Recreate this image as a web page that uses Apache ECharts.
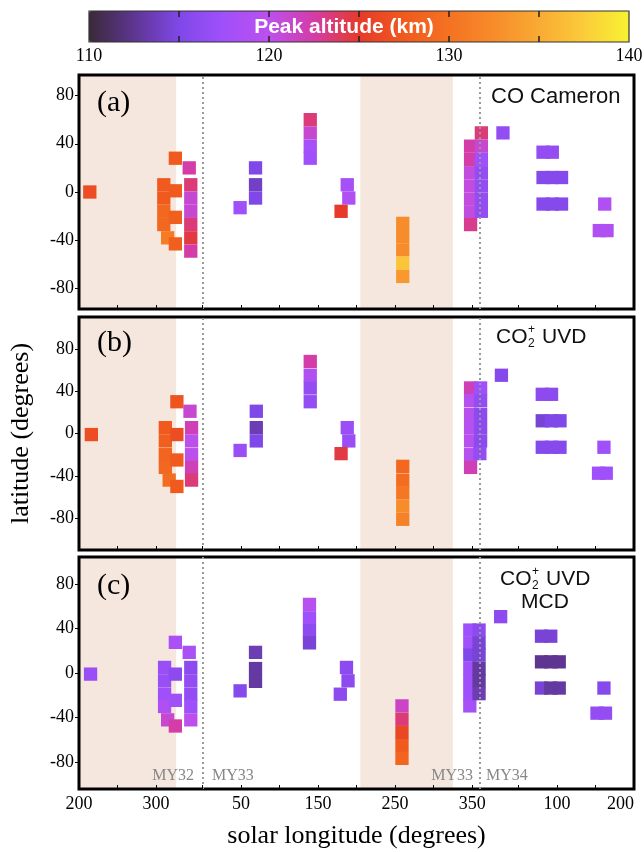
<!DOCTYPE html>
<html lang="en">
<head>
<meta charset="UTF-8" />
<title>Peak altitude vs solar longitude</title>
<script src="https://cdn.jsdelivr.net/npm/echarts@6/dist/echarts.min.js"></script>
<style>
  html, body { margin: 0; padding: 0; background: #fff; }
  #chart { width: 644px; height: 852px; }
</style>
</head>
<body>
<div id="chart"></div>
<script>
    // x is a running solar longitude: MY32 as is, MY33 = Ls + 360, MY34 = Ls + 720
    let lsTicks = [200, 250, 300, 360, 410, 460, 510, 560, 610, 660, 710, 770, 820, 870, 920];
    let lsLabelValues = [200, 300, 410, 510, 610, 710, 820, 920];
    let lsLabels = ["200", "300", "50", "150", "250", "350", "100", "200"];
    let latTicks = [-80, -40, 0, 40, 80];
    let altLabels = [110, 120, 130, 140];
    let altTicks = [115, 120, 125, 130, 135];
    let yearBreaks = [360, 720];
    let dustSeasons = [[200, 326], [565, 685]];
    let altColors = ["#3a2a38", "#5e3590", "#8048e8", "#a050fa", "#bc50ec", "#d43ca8",
        "#e63a2a", "#f05a1e", "#f47222", "#f78c2a", "#f9aa34", "#fbcc3a", "#f8f232"];

    // [Ls, latitude, peak altitude (km)]
    let coCameron = [
        [214, 0, 126.5],
        [325, 28, 127.5],
        [310, 6, 127.5], [310, -5, 127.5], [310, -16, 129], [310, -27, 129],
        [315, -38, 131],
        [325, 1, 127.5], [325, -21, 128], [325, -43, 128],
        [343, 20, 122.5],
        [345, 6, 123.5], [345, -5, 121], [345, -16, 121], [345, -27, 123.5], [345, -38, 124.5], [345, -49, 122.5],
        [409, -13, 117.5],
        [429, 20, 115], [429, 6, 114], [429, -5, 115],
        [500, 60, 123.5], [500, 49, 121], [500, 38, 118], [500, 28, 117.5],
        [548, 6, 118], [550, -5, 119], [540, -16, 125],
        [620, -26, 132.5], [620, -37, 132.5], [620, -48, 132.5], [620, -59, 137], [620, -70, 133.5],
        [708, 38, 122.5], [708, 27, 122.5], [708, 16, 120.5], [708, 5, 120.5], [708, -6, 120.5], [708, -17, 120.5], [708, -27, 123],
        [722, 49, 123.5], [722, 38, 121], [722, 27, 117.5], [722, 16, 116.5], [722, 5, 116.5], [722, -6, 116.5], [722, -16, 116.5],
        [750, 49, 116.5],
        [802, 33, 116.5], [814, 33, 116.5],
        [802, 12, 115.5], [814, 12, 115.5], [826, 12, 115.5],
        [802, -10, 115.5], [814, -10, 115.5], [826, -10, 115.5],
        [882, -10, 119],
        [875, -32, 119], [885, -32, 119]
    ];
    let co2UVD = [
        [216, -1, 126.5],
        [327, 30, 127],
        [312, 5.5, 127.5], [312, -7, 128], [312, -20, 128.5], [312, -32, 129],
        [317, -44, 129.5],
        [327, -1, 126.5], [327, -25, 127.5], [327, -50, 127.5],
        [344, 21, 121],
        [346, 5.5, 122], [346, -7, 120], [346, -20, 120], [346, -32, 122], [346, -44, 123.5],
        [409, -16, 117],
        [430, 21, 115], [430, 5.5, 113.5], [430, -7, 115],
        [500, 68, 122.5], [500, 55, 119], [500, 43, 116.5], [500, 30, 116.5],
        [548, 5.5, 117], [550, -7, 117], [540, -19, 124.5],
        [620, -31, 129], [620, -44, 129.5], [620, -56, 130.5], [620, -68.5, 132.5], [620, -81, 131.5],
        [708, 43, 122], [708, 31, 119.5], [708, 18, 119.5], [708, 5.5, 119.5], [708, -7, 119.5], [708, -20, 119.5], [708, -32, 122],
        [721, 43, 117.5], [721, 31, 116.5], [721, 18, 116], [721, 5.5, 116], [721, -7, 116], [720, -19, 116.5],
        [748, 55, 115.5],
        [801, 37, 116], [813, 37, 116],
        [801, 12, 114.5], [813, 12, 115], [824, 12, 115],
        [801, -13, 115.5], [813, -13, 115.5], [824, -13, 115.5],
        [881, -13, 117.5],
        [874, -37.5, 117.5], [884, -37.5, 117.5]
    ];
    let co2UVDMCD = [
        [215, -1, 117],
        [325, 27.5, 118.5],
        [311, 5, 117], [311, -7, 117], [311, -19, 117.5], [311, -30, 119],
        [315, -42, 121],
        [325, -1, 116], [325, -24.5, 117.5], [325, -47.5, 122.5],
        [343, 18.5, 118.5],
        [345, 5, 116], [345, -7, 116.5], [345, -19, 116.5], [345, -30, 117.5], [345, -42, 120],
        [409, -16, 115.5],
        [429, 18.5, 113.5], [429, 4, 113], [429, -7.5, 113],
        [499, 61.5, 119.5], [499, 49.5, 117.5], [499, 38, 116], [499, 27, 114.5],
        [547, 5, 116], [549, -7, 116], [539, -19, 116],
        [619, -29.5, 121.5], [619, -41.5, 123.5], [619, -53.5, 126], [619, -65, 127.5], [619, -76.5, 128.5],
        [707, 38.5, 117.5], [707, 27, 117.5], [707, 16, 115], [707, 4, 117.5], [707, -7, 117.5], [707, -18.5, 117.5], [707, -29.5, 118],
        [719, 38.5, 116], [719, 27, 114.5], [719, 16, 114.5], [719, 4, 113], [719, -7, 113], [719, -18.5, 113.5],
        [747, 50.5, 116],
        [800, 33, 114.5], [812, 33, 114.5],
        [800, 10, 112.5], [812, 10, 112.5], [823, 10, 112.5],
        [800, -13.5, 114.5], [812, -13.5, 113], [823, -13.5, 113],
        [881, -13.5, 115.5],
        [872, -36, 116.5], [883, -36, 116.5]
    ];

    let panels = [coCameron, co2UVD, co2UVDMCD];
    let latRanges = [[-97, 97], [-110, 110], [-104, 104]];
    let gridTops = [75, 317, 557];
    let gridHeights = [234, 233, 232];

    const serif = "Liberation Serif";
    const sans = "Liberation Sans";

    let myChart = echarts.init(document.getElementById("chart"), null, { width: 644, height: 852 });

    let grids = [], xAxes = [], yAxes = [], series = [];

    panels.forEach((data, i) => {
        grids.push({
            left: 79, right: 10, top: gridTops[i], height: gridHeights[i],
            outerBoundsMode: "none", containLabel: false,
            show: true, z: 3, backgroundColor: "transparent",
            borderColor: "#000", borderWidth: 3,
        });
        xAxes.push({
            gridIndex: i, type: "value", min: 200, max: 920, z: 5,
            axisLine: { show: false, onZero: false },
            axisTick: { show: true, inside: true, length: 4, customValues: lsTicks, lineStyle: { color: "#000" } },
            axisLabel: {
                show: i === 2, customValues: lsLabelValues, margin: 6,
                formatter: (v) => lsLabels[lsLabelValues.indexOf(v)],
                fontFamily: serif, fontSize: 18, color: "#000",
                showMinLabel: true, showMaxLabel: true, alignMaxLabel: "right",
            },
            splitLine: { show: false },
            name: i === 2 ? "solar longitude (degrees)" : "",
            nameLocation: "middle", nameGap: 34,
            nameTextStyle: { fontFamily: serif, fontSize: 26, color: "#000" },
        });
        yAxes.push({
            gridIndex: i, type: "value", min: latRanges[i][0], max: latRanges[i][1], z: 5,
            axisLine: { show: false, onZero: false },
            axisTick: { show: true, inside: false, length: 4, customValues: latTicks, lineStyle: { color: "#000" } },
            axisLabel: {
                customValues: latTicks, margin: 5,
                fontFamily: serif, fontSize: 18, color: "#000",
            },
            splitLine: { show: false },
            name: i === 1 ? "latitude (degrees)" : "",
            nameLocation: "middle", nameGap: 45,
            nameTextStyle: { fontFamily: serif, fontSize: 26, color: "#000" },
        });
        // dust season shading and Mars-year boundaries
        series.push({
            type: "scatter", xAxisIndex: i, yAxisIndex: i, data: [], z: 1, silent: true,
            markArea: {
                silent: true,
                itemStyle: { color: "#f5e7de" },
                data: dustSeasons.map(s => [{ xAxis: s[0] }, { xAxis: s[1] }]),
            },
            markLine: {
                silent: true, symbol: "none",
                label: { show: false },
                lineStyle: { color: "#9a9a9a", type: [2, 3], width: 2 },
                data: yearBreaks.map(b => ({ xAxis: b })),
            },
        });
    });

    panels.forEach((data, i) => {
        series.push({
            type: "scatter", xAxisIndex: i, yAxisIndex: i, z: 2,
            symbol: "rect", symbolSize: 13.3,
            itemStyle: { opacity: 1 },
            emphasis: { disabled: true },
            data: data,
        });
    });

    // colour bar axes
    grids.push({
        left: 89, top: 11, width: 540, height: 31,
        outerBoundsMode: "none", containLabel: false,
        show: true, z: 5, backgroundColor: "transparent",
        borderColor: "#333", borderWidth: 1.2,
    });
    xAxes.push({
        gridIndex: 3, type: "value", min: 110, max: 140, z: 6,
        axisLine: { show: false, onZero: false },
        axisTick: { inside: true, length: 6, customValues: altTicks, lineStyle: { color: "#222", width: 1.5 } },
        axisLabel: { customValues: altLabels, margin: 5, fontFamily: serif, fontSize: 18, color: "#000", showMinLabel: true, showMaxLabel: true },
        splitLine: { show: false },
    });
    xAxes.push({
        gridIndex: 3, type: "value", position: "top", min: 110, max: 140, z: 6,
        axisLine: { show: false, onZero: false },
        axisTick: { inside: true, length: 6, customValues: altTicks, lineStyle: { color: "#222", width: 1.5 } },
        axisLabel: { show: false },
        splitLine: { show: false },
    });
    yAxes.push({ gridIndex: 3, type: "value", min: 0, max: 1, show: false });

    let notes = [
        { type: "text", x: 344, y: 27, z: 100, style: { text: "Peak altitude (km)", fill: "#fff", font: "bold 21px '" + sans + "'", align: "center", verticalAlign: "middle" } },
        { type: "text", x: 97, y: 103, z: 100, style: { text: "(a)", fill: "#000", font: "30px '" + serif + "'", verticalAlign: "middle" } },
        { type: "text", x: 97, y: 343, z: 100, style: { text: "(b)", fill: "#000", font: "30px '" + serif + "'", verticalAlign: "middle" } },
        { type: "text", x: 97, y: 586, z: 100, style: { text: "(c)", fill: "#000", font: "30px '" + serif + "'", verticalAlign: "middle" } },
        { type: "text", x: 491, y: 97, z: 100, style: { text: "CO Cameron", fill: "#111", font: "22px '" + sans + "'", verticalAlign: "middle" } },
        { type: "text", x: 496, y: 337, z: 100, style: { text: "CO", fill: "#111", font: "21px '" + sans + "'", verticalAlign: "middle" } },
        { type: "text", x: 528, y: 330, z: 100, style: { text: "+", fill: "#111", font: "12px '" + sans + "'", verticalAlign: "middle" } },
        { type: "text", x: 528, y: 344, z: 100, style: { text: "2", fill: "#111", font: "12px '" + sans + "'", verticalAlign: "middle" } },
        { type: "text", x: 542, y: 337, z: 100, style: { text: "UVD", fill: "#111", font: "21px '" + sans + "'", verticalAlign: "middle" } },
        { type: "text", x: 500, y: 579, z: 100, style: { text: "CO", fill: "#111", font: "21px '" + sans + "'", verticalAlign: "middle" } },
        { type: "text", x: 532, y: 572, z: 100, style: { text: "+", fill: "#111", font: "12px '" + sans + "'", verticalAlign: "middle" } },
        { type: "text", x: 532, y: 586, z: 100, style: { text: "2", fill: "#111", font: "12px '" + sans + "'", verticalAlign: "middle" } },
        { type: "text", x: 546, y: 579, z: 100, style: { text: "UVD", fill: "#111", font: "21px '" + sans + "'", verticalAlign: "middle" } },
        { type: "text", x: 545, y: 602, z: 100, style: { text: "MCD", fill: "#111", font: "21px '" + sans + "'", align: "center", verticalAlign: "middle" } },
        { type: "text", x: 194, y: 776, z: 100, style: { text: "MY32", fill: "#888", font: "16px '" + serif + "'", align: "right", verticalAlign: "middle" } },
        { type: "text", x: 212, y: 776, z: 100, style: { text: "MY33", fill: "#888", font: "16px '" + serif + "'", verticalAlign: "middle" } },
        { type: "text", x: 473, y: 776, z: 100, style: { text: "MY33", fill: "#888", font: "16px '" + serif + "'", align: "right", verticalAlign: "middle" } },
        { type: "text", x: 486, y: 776, z: 100, style: { text: "MY34", fill: "#888", font: "16px '" + serif + "'", verticalAlign: "middle" } },
    ];

    let option = {
        animation: false,
        backgroundColor: "#fff",
        grid: grids,
        xAxis: xAxes,
        yAxis: yAxes,
        visualMap: {
            type: "continuous",
            seriesIndex: [3, 4, 5],
            dimension: 2,
            min: 110, max: 140,
            orient: "horizontal",
            left: 89, top: 11,
            itemWidth: 31, itemHeight: 540,
            calculable: false,
            padding: 0,
            z: 1,
            inRange: { color: altColors },
        },
        graphic: notes,
        series: series,
    };

    myChart.setOption(option);
</script>
</body>
</html>
